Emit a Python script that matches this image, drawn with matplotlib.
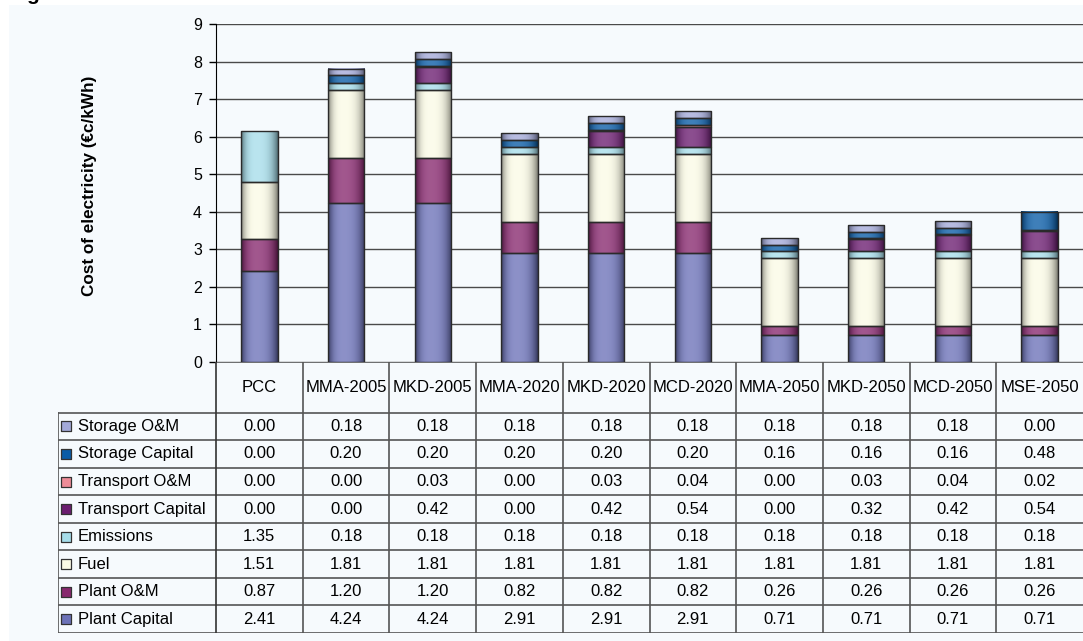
import numpy as np
import matplotlib
matplotlib.use("Agg")
from matplotlib import pyplot as plt
from matplotlib.patches import Rectangle

plt.rcParams['font.family'] = ['Liberation Sans', 'DejaVu Sans']

scenarios = ['PCC', 'MMA-2005', 'MKD-2005', 'MMA-2020', 'MKD-2020',
             'MCD-2020', 'MMA-2050', 'MKD-2050', 'MCD-2050', 'MSE-2050']

plant_capital = [2.41, 4.24, 4.24, 2.91, 2.91, 2.91, 0.71, 0.71, 0.71, 0.71]
plant_om = [0.87, 1.20, 1.20, 0.82, 0.82, 0.82, 0.26, 0.26, 0.26, 0.26]
fuel = [1.51, 1.81, 1.81, 1.81, 1.81, 1.81, 1.81, 1.81, 1.81, 1.81]
emissions = [1.35, 0.18, 0.18, 0.18, 0.18, 0.18, 0.18, 0.18, 0.18, 0.18]
transport_capital = [0.00, 0.00, 0.42, 0.00, 0.42, 0.54, 0.00, 0.32, 0.42, 0.54]
transport_om = [0.00, 0.00, 0.03, 0.00, 0.03, 0.04, 0.00, 0.03, 0.04, 0.02]
storage_capital = [0.00, 0.20, 0.20, 0.20, 0.20, 0.20, 0.16, 0.16, 0.16, 0.48]
storage_om = [0.00, 0.18, 0.18, 0.18, 0.18, 0.18, 0.18, 0.18, 0.18, 0.00]

# bottom to top of each stack
series = [
    ('Plant Capital', plant_capital, '#6C72B8'),
    ('Plant O&M', plant_om, '#87286E'),
    ('Fuel', fuel, '#FBFBE6'),
    ('Emissions', emissions, '#A6DDEA'),
    ('Transport Capital', transport_capital, '#6B1D70'),
    ('Transport O&M', transport_om, '#EE8C98'),
    ('Storage Capital', storage_capital, '#0A5CA6'),
    ('Storage O&M', storage_om, '#A3A9D8'),
]

W, H = 1083, 641
bg = '#F6FAFD'
edge = '#2A2A2A'
line_c = '#555555'
fs = 12


def shaded(color, n=64):
    # cylinder-like horizontal shading for a bar segment
    c = np.array(matplotlib.colors.to_rgb(color))
    t = np.linspace(0, 1, n)
    s = np.where(t < 0.42, (t - 0.42) / 0.42, (t - 0.42) / 0.58)
    dark = 0.5 * np.abs(s) ** 3
    light = 0.22 * np.clip(1 - s ** 2, 0, 1)
    rgb = c[None, :] * (1 - dark[:, None])
    rgb = rgb + (1 - rgb) * light[:, None]
    return rgb[None, :, :]


fig = plt.figure(figsize=(W / 100, H / 100), dpi=100)
fig.patch.set_facecolor('white')
fig.patches.append(Rectangle((9 / W, 0), 1, 1 - 5 / H, transform=fig.transFigure,
                             facecolor=bg, edgecolor='none', zorder=-10))
fig.text(26 / W, 1.0, 'g', fontsize=15, fontweight='bold', va='baseline')

n = len(scenarios)
x = np.arange(n)
bw = 0.42

ax = fig.add_axes([216 / W, 1 - 362 / H, 1 - 216 / W, (362 - 24) / H])
ax.set_facecolor('none')
bottom = np.zeros(n)
for name, vals, color in series:
    vals = np.array(vals)
    img = shaded(color)
    for i in range(n):
        if vals[i] <= 0:
            continue
        ax.imshow(img, extent=(x[i] - bw / 2, x[i] + bw / 2, bottom[i], bottom[i] + vals[i]),
                  aspect='auto', interpolation='bilinear', zorder=2)
    ax.bar(x[vals > 0], vals[vals > 0], bw, bottom=bottom[vals > 0],
           facecolor='none', edgecolor=edge, linewidth=1.0, zorder=3)
    bottom += vals

ax.set_xlim(-0.5, n - 0.5)
ax.set_ylim(0, 9)
ax.set_yticks(range(10))
ax.set_xticks([])
ax.yaxis.grid(True, color='#4A4A4A', linewidth=1.0)
ax.set_axisbelow(True)
for side in ['top', 'right', 'bottom']:
    ax.spines[side].set_visible(False)
ax.spines['left'].set_color('black')
ax.tick_params(axis='y', length=5, width=1, pad=5, labelsize=11.5)
ax.set_ylabel('Cost of electricity (€c/kWh)', fontsize=12.3, fontweight='bold')
ax.yaxis.set_label_coords((97 - 216) / (W - 216), (362 - 186) / 338)

# data table with legend keys
col_px = (W - 216) / n
x_left = -0.5 - (216 - 57.7) / col_px
row_h = 27.55
head_h = (412.7 - 362) / row_h
nrows = len(series)
tax = fig.add_axes([57.7 / W, 1 - 633 / H, 1 - 57.7 / W, (633 - 362) / H])
tax.set_facecolor('none')
tax.set_xlim(x_left, n - 0.5)
tax.set_ylim(0, nrows + head_h)
tax.axis('off')

top = nrows + head_h
# horizontal rules
tax.plot([-0.5, n - 0.5], [top, top], color=line_c, lw=1.2)
for r in range(nrows + 1):
    tax.plot([x_left, n - 0.5], [r, r], color=line_c, lw=1.2)
# vertical rules
tax.plot([x_left, x_left], [0, nrows], color=line_c, lw=1.2)
for i in range(n):
    tax.plot([i - 0.5, i - 0.5], [0, top], color='#333333' if i == 0 else line_c, lw=1.2)

for i, lab in enumerate(scenarios):
    tax.text(i, nrows + head_h / 2, lab, ha='center', va='center', fontsize=fs)

key_x = x_left + (66 - 57.7) / col_px
text_x = x_left + (78 - 57.7) / col_px
for r, (name, vals, color) in enumerate(series):
    yc = r + 0.5
    tax.scatter([key_x], [yc], marker='s', s=48, color=color, edgecolors='#333333',
                linewidths=0.9, zorder=3)
    tax.text(text_x, yc, name, ha='left', va='center', fontsize=fs)
    for i in range(n):
        tax.text(i, yc, '%.2f' % vals[i], ha='center', va='center', fontsize=fs)

fig.savefig('out.png', dpi=100, facecolor=fig.get_facecolor())
